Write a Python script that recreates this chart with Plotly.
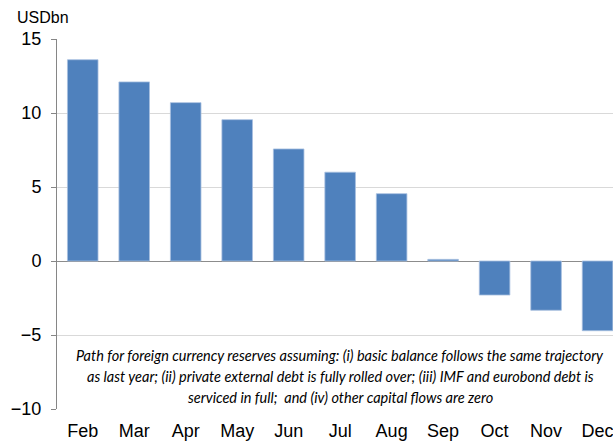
import plotly.graph_objects as go

months = ["Feb", "Mar", "Apr", "May", "Jun", "Jul", "Aug", "Sep", "Oct", "Nov", "Dec"]
reserves = [13.6, 12.1, 10.7, 9.55, 7.57, 6.0, 4.55, 0.11, -2.3, -3.33, -4.71]
ytick_vals = [-10, -5, 0, 5, 10, 15]
unit_label = "USDbn"
note_lines = [
    "Path for foreign currency reserves assuming: (i) basic balance follows the same trajectory",
    "as last year; (ii) private external debt is fully rolled over; (iii) IMF and eurobond debt is",
    "serviced in full;  and (iv) other capital flows are zero",
]

fig = go.Figure()
fig.add_trace(go.Bar(
    x=months, y=reserves,
    marker=dict(color="#4F81BD", line=dict(color="#a7bfe0", width=0.8)),
    hoverinfo="x+y",
))

annotations = [dict(
    text=unit_label, xref="paper", yref="paper", x=-42/556, y=1.0 + 21/370,
    xanchor="left", yanchor="middle", showarrow=False,
    font=dict(family="Liberation Sans, Arial", size=16, color="#000000"),
)]
for i, line in enumerate(note_lines):
    annotations.append(dict(
        text="<i>" + line + "</i>", xref="paper", yref="paper",
        x=(340 - 57) / 556, y=(409 - (355 + 21 * i)) / 370,
        xanchor="center", yanchor="middle", showarrow=False,
        font=dict(family="Lato, Carlito, sans-serif", size=14.5, color="#000000"),
    ))

fig.update_layout(
    width=613, height=442,
    margin=dict(l=57, r=0, t=39, b=33),
    paper_bgcolor="white", plot_bgcolor="white",
    showlegend=False,
    bargap=0.406,
    annotations=annotations,
    font=dict(family="Liberation Sans, Arial", size=18, color="#000000"),
    xaxis=dict(
        type="category", range=[-0.5, 10.3],
        showgrid=False, showline=False, ticks="",
        ticklabelstandoff=9, automargin=False,
        tickfont=dict(size=18),
    ),
    yaxis=dict(
        range=[-10, 15], tickvals=ytick_vals, automargin=False,
        showgrid=True, gridcolor="#d9d9d9", gridwidth=1,
        zeroline=True, zerolinecolor="#8c8c8c", zerolinewidth=1,
        showline=True, linecolor="#868686", linewidth=1,
        ticks="outside", ticklen=5, tickcolor="#868686",
        ticklabelstandoff=6,
        tickfont=dict(size=18),
    ),
)

fig.write_html("out.html")
